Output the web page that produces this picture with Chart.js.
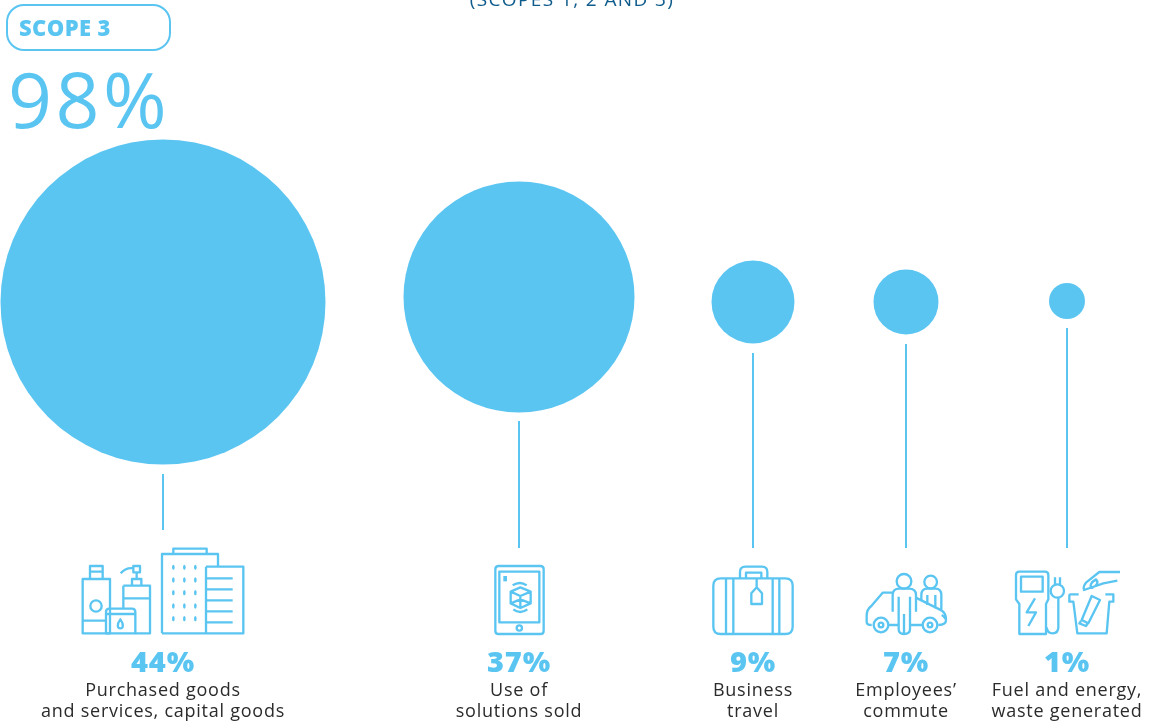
<!DOCTYPE html>
<html>
<head>
<meta charset="utf-8">
<title>Scope 3 emissions</title>
<style>
  html, body { margin: 0; padding: 0; background: #fff; overflow: hidden; }
  canvas { display: block; }
</style>
<script src="https://cdn.jsdelivr.net/npm/chart.js@4"></script>
</head>
<body>
<canvas id="scope-chart" width="1153" height="722"></canvas>
<script>
const categories = [
  ["Purchased goods", "and services, capital goods"],
  ["Use of", "solutions sold"],
  ["Business", "travel"],
  ["Employees’", "commute"],
  ["Fuel and energy,", "waste generated"],
];
const shares = [44, 37, 9, 7, 1];
const scopeLabel = "SCOPE 3";
const scopeTotal = "98%";
const headingTail = "(SCOPES 1, 2 AND 3)";

// Layout, in page pixels (the axes run 0-1153 and 0-722)
const columnX = [163, 519, 753, 906, 1067];
const bubbleY = [302, 297, 302, 302, 301];
const bubbleRadius = [162.5, 115.5, 41.5, 32.5, 18];
const stemTop = [474, 421, 353, 344, 328];
const stemBottom = [530, 548, 548, 548, 548];

const BLUE = "#5bc5f2";
const DARK_BLUE = "#0f5c8c";
const TEXT = "#2b2b2b";
const FONT = '"Open Sans", sans-serif';

// Pictograms as SVG paths, at 3x, each with the offset of its own box
const icons = [
  {
    ox: 60, oy: 530,
    paths: [
      "M68 147H150V310H68Z M90 108H128V147H90Z M90 125H128 M68 272H138 M125 228a17 17 0 1 1-34 0a17 17 0 1 1 34 0",
      "M138 310V246Q138 236 148 236H216Q226 236 226 246V310Z M138 252H226 M181 268C170 283 172 295 181 295C190 295 192 283 181 268Z",
      "M190 167H270V310H226 M190 167V236 M190 205H270 M216 147H244V167H216Z M220 108H240V127H220Z M230 127V147 M220 115C205 113 192 118 182 130",
      "M306 310V72H474V110 M340 72V56H440V72 M438 110H550V310H306 M438 110V310 M438 145H518 M438 178H518 M438 211H518 M438 244H518 M438 277H518",
    ],
    dots: {
      xs: [340, 373, 406],
      ys: [112, 150, 188, 228, 266],
    },
  },
  {
    ox: 450, oy: 540,
    paths: [
      "M146 78H271Q281 78 281 88V272Q281 282 271 282H146Q136 282 136 272V88Q136 78 146 78Z M148 95H268V247H148Z",
      "M216 264a8 8 0 1 1-16 0a8 8 0 1 1 16 0",
      "M211 142L242 155V190L211 204L182 190V155Z M182 155L211 168L242 155 M211 168V204 M182 190L211 178L242 190",
      "M188 136Q210 122 230 136 M190 208Q210 224 232 208",
    ],
    fills: ["M160 108H171V124H160Z"],
  },
  {
    ox: 450, oy: 540,
    paths: [
      "M812 115H1006Q1028 115 1028 137V260Q1028 282 1006 282H812Q790 282 790 260V137Q790 115 812 115Z",
      "M828 115V282 M850 115V282 M968 115V282 M988 115V282",
      "M870 115V96Q870 80 886 80H936Q952 80 952 96V115 M888 115V98H934V115",
      "M920 115V142 M920 142L936 160V192H904V160Z",
    ],
  },
  {
    ox: 840, oy: 540,
    paths: [
      "M214 124a22 22 0 1 1-44 0a22 22 0 1 1 44 0",
      "M158 215V165Q158 146 178 146H206Q228 146 228 165V215 M176 170V268Q176 282 192 282Q210 282 210 268V170 M192 222V282",
      "M291 126a19 19 0 1 1-38 0a19 19 0 1 1 38 0",
      "M244 180V165Q244 146 262 146H286Q304 146 304 165V208 M262 165V195 M286 165V205",
      "M158 158H128L94 198Q80 208 80 228V245Q80 255 95 255 M146 255H176 M210 255H248 M226 172L306 212Q318 220 318 240Q318 255 295 255 M305 225Q312 228 316 236",
      "M145 255a22 22 0 1 1-44 0a22 22 0 1 1 44 0 M292 255a22 22 0 1 1-44 0a22 22 0 1 1 44 0",
      "M130 255a7 7 0 1 1-14 0a7 7 0 1 1 14 0 M277 255a7 7 0 1 1-14 0a7 7 0 1 1 14 0",
    ],
  },
  {
    ox: 840, oy: 540,
    paths: [
      "M538 282V192L528 178V105Q528 95 538 95H615Q625 95 625 105V178L618 192V282Z M543 110H608V155H543Z M585 175L560 217H588L565 258",
      "M620 262Q622 280 638 280Q655 280 655 262V174",
      "M672 153a20 20 0 1 1-40 0a20 20 0 1 1 40 0 M645 134V112 M660 134V112",
      "M688 163H716 M688 163V185H700L712 280H800L808 185H820V163H796",
      "M755 168L780 180L745 250L725 240Z M723 243L718 250L738 258L742 252",
      "M840 96H778L738 128Q728 140 732 150L790 130L832 122 M768 118C752 126 748 140 756 144C768 140 778 128 768 118Z",
    ],
  },
];

function drawText(ctx, text, x, y, font, color, align, spacing) {
  ctx.font = font;
  ctx.fillStyle = color;
  ctx.textAlign = align;
  ctx.textBaseline = "alphabetic";
  ctx.letterSpacing = spacing || "0px";
  ctx.fillText(text, x, y);
}

function drawIcon(ctx, icon) {
  ctx.save();
  ctx.translate(icon.ox, icon.oy);
  ctx.scale(1 / 3, 1 / 3);
  ctx.strokeStyle = BLUE;
  ctx.fillStyle = BLUE;
  ctx.lineWidth = 7;
  ctx.lineJoin = "round";
  icon.paths.forEach((d) => ctx.stroke(new Path2D(d)));
  (icon.fills || []).forEach((d) => ctx.fill(new Path2D(d)));
  if (icon.dots) {
    icon.dots.xs.forEach((x) => {
      icon.dots.ys.forEach((y) => {
        ctx.beginPath();
        ctx.ellipse(x, y, 4, 8, 0, 0, Math.PI * 2);
        ctx.fill();
      });
    });
  }
  ctx.restore();
}

// Pill, headline figure, pictograms and captions under each stem
const annotationPlugin = {
  id: "annotations",
  afterDatasetsDraw(chart) {
    const ctx = chart.ctx;
    const xScale = chart.scales.x;
    ctx.save();

    drawText(ctx, headingTail, 572, 6, `500 19px ${FONT}`, DARK_BLUE, "center", "1.4px");

    ctx.beginPath();
    ctx.roundRect(7, 5, 163, 45, 17);
    ctx.strokeStyle = BLUE;
    ctx.lineWidth = 2;
    ctx.stroke();
    drawText(ctx, scopeLabel, 19, 36, `800 22px ${FONT}`, BLUE, "left", "0.4px");
    drawText(ctx, scopeTotal, 8, 128, `500 77px ${FONT}`, BLUE, "left", "3.5px");

    icons.forEach((icon) => drawIcon(ctx, icon));

    shares.forEach((share, i) => {
      const x = xScale.getPixelForValue(columnX[i]);
      drawText(ctx, `${share}%`, x, 672, `800 29px ${FONT}`, BLUE, "center", "0.8px");
      drawText(ctx, categories[i][0], x, 696, `400 18px ${FONT}`, TEXT, "center", "0.75px");
      drawText(ctx, categories[i][1], x, 717, `400 18px ${FONT}`, TEXT, "center", "0.75px");
    });

    ctx.restore();
  },
};

const stems = shares.map((share, i) => ({
  type: "line",
  data: [
    { x: columnX[i], y: stemTop[i] },
    { x: columnX[i], y: stemBottom[i] },
  ],
  borderColor: BLUE,
  borderWidth: 2,
  pointRadius: 0,
}));

new Chart(document.getElementById("scope-chart"), {
  type: "bubble",
  data: {
    datasets: [
      {
        type: "bubble",
        label: scopeLabel,
        data: shares.map((share, i) => ({
          x: columnX[i],
          y: bubbleY[i],
          r: bubbleRadius[i],
          share: share,
        })),
        backgroundColor: BLUE,
        borderWidth: 0,
        hoverBorderWidth: 0,
        clip: false,
      },
      ...stems,
    ],
  },
  options: {
    responsive: false,
    animation: false,
    layout: { padding: 0, autoPadding: false },
    plugins: {
      legend: { display: false },
      title: { display: false },
      tooltip: { enabled: false },
    },
    scales: {
      x: { type: "linear", min: 0, max: 1153, display: false },
      y: { type: "linear", min: 0, max: 722, reverse: true, display: false },
    },
  },
  plugins: [annotationPlugin],
});
</script>
</body>
</html>
